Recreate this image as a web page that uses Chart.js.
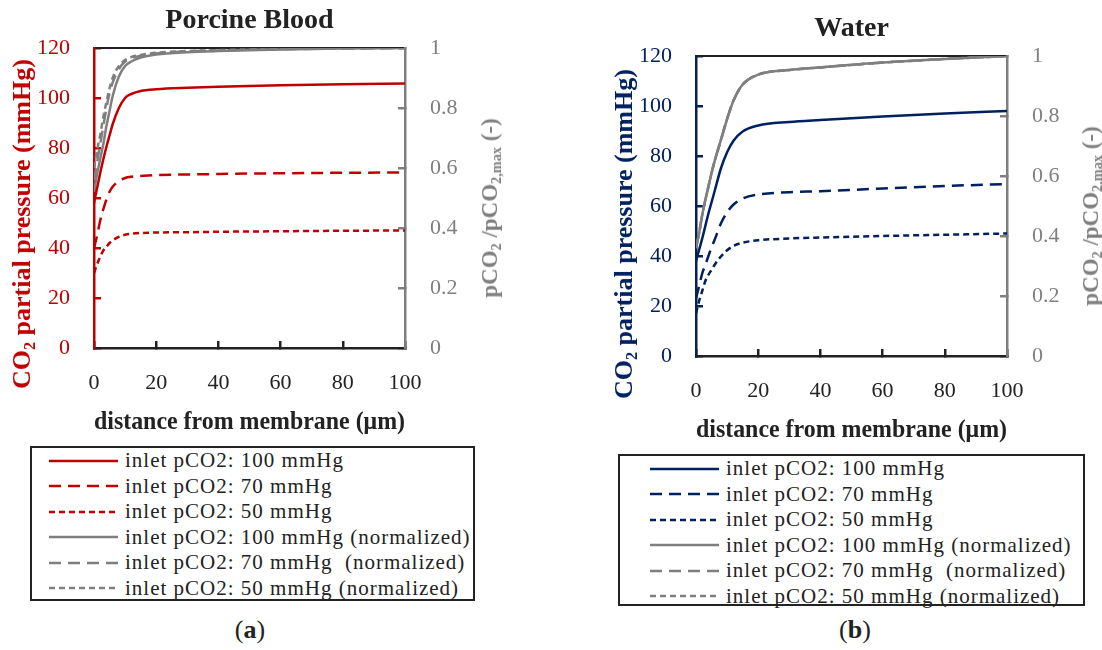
<!DOCTYPE html>
<html>
<head>
<meta charset="utf-8">
<script src="https://cdn.jsdelivr.net/npm/chart.js@4.4.0/dist/chart.umd.min.js"></script>
<style>
body { margin:0; width:1102px; height:650px; overflow:hidden; background:#fff; font-family:"Liberation Serif", serif; color:#222; }
.wrap { position:absolute; width:500px; height:445px; }
.legend { position:absolute; border:2px solid #222; box-sizing:border-box; }
.row { height:25.5px; display:flex; align-items:center; font-size:21px; letter-spacing:1px; white-space:pre; }
.row svg { margin-right:7px; }
.cap { position:absolute; top:615px; font-size:26px; transform:translateX(-50%); }
.ytitle { position:absolute; white-space:nowrap; font-weight:bold; font-size:26px; line-height:30px;
    transform:translate(-50%, -50%) rotate(-90deg); }
.ytitle sub { font-size:0.62em; vertical-align:-0.3em; line-height:0; }
</style>
</head>
<body>
<div class="wrap" style="left:0;top:0"><canvas id="blood" width="500" height="445"></canvas></div>
<div class="wrap" style="left:602px;top:8px"><canvas id="water" width="500" height="445"></canvas></div>
<div class="ytitle" style="left:22px;top:224px;color:#C00000">CO<sub>2</sub> partial pressure (mmHg)</div>
<div class="ytitle" style="left:490px;top:208px;color:#7F7F7F;font-size:23px">pCO<sub>2</sub> /pCO<sub>2,max</sub> (-)</div>
<div class="ytitle" style="left:624px;top:234px;color:#002060">CO<sub>2</sub> partial pressure (mmHg)</div>
<div class="ytitle" style="left:1091px;top:216px;color:#7F7F7F;font-size:23px">pCO<sub>2</sub> /pCO<sub>2,max</sub> (-)</div>
<div class="legend" id="legA" style="left:30px;top:446px;width:445px;height:155px;padding-left:17px"></div>
<div class="legend" id="legB" style="left:618px;top:454px;width:467px;height:152px;padding-left:30px"></div>
<div class="cap" style="left:250px">(<b>a</b>)</div>
<div class="cap" style="left:855px">(<b>b</b>)</div>
<script>
// khoảng cách từ màng (µm)
var dist = [0, 1, 2, 3, 4, 5, 6, 8, 10, 12, 15, 20, 30, 40, 60, 80, 100];

// máu heo (mmHg)
var blood100 = [58, 64, 70, 75.5, 80.5, 85, 89.5, 96, 100, 101.6, 102.8, 103.5, 104.1, 104.5, 105.1, 105.5, 105.8];
var blood70 = [40, 45, 51, 55.5, 59.5, 62.5, 64.5, 66.8, 68, 68.5, 68.8, 69.2, 69.4, 69.6, 69.9, 70.1, 70.2];
var blood50 = [30, 33.5, 36.5, 39, 40.5, 42, 43, 44.5, 45.3, 45.7, 46, 46.2, 46.3, 46.5, 46.7, 46.9, 47];
// máu heo chuẩn hoá (-)
var bloodN100 = [0.52, 0.58, 0.63, 0.68, 0.74, 0.79, 0.84, 0.905, 0.94, 0.955, 0.968, 0.978, 0.986, 0.99, 0.995, 0.998, 1.0];
var bloodN70 = [0.56, 0.62, 0.68, 0.74, 0.80, 0.85, 0.885, 0.93, 0.955, 0.965, 0.974, 0.982, 0.989, 0.992, 0.996, 0.998, 1.0];
var bloodN50 = [0.60, 0.66, 0.71, 0.77, 0.82, 0.865, 0.90, 0.94, 0.96, 0.97, 0.977, 0.984, 0.99, 0.993, 0.997, 0.999, 1.0];

// nước (mmHg)
var water100 = [38, 42.5, 47, 52, 57, 61.5, 66, 75, 81.5, 86, 89.8, 92.2, 93.6, 94.4, 95.8, 97, 98];
var water70 = [23, 28, 33, 36.5, 40, 43.5, 46.5, 53, 57.5, 60.5, 63, 64.6, 65.5, 65.9, 67, 68, 68.8];
var water50 = [17, 22, 26, 30, 32.5, 34.5, 36.5, 39.8, 42.3, 44, 45.3, 46.3, 47, 47.4, 48, 48.5, 49];
// nước chuẩn hoá (-) - ba đường trùng nhau
var waterN100 = [0.36, 0.41, 0.47, 0.52, 0.565, 0.61, 0.65, 0.72, 0.79, 0.85, 0.905, 0.938, 0.953, 0.962, 0.978, 0.99, 1.0];
var waterN70 = [0.36, 0.41, 0.47, 0.52, 0.565, 0.61, 0.65, 0.72, 0.79, 0.85, 0.905, 0.938, 0.953, 0.962, 0.978, 0.99, 1.0];
var waterN50 = [0.36, 0.41, 0.47, 0.52, 0.565, 0.61, 0.65, 0.72, 0.79, 0.85, 0.905, 0.938, 0.953, 0.962, 0.978, 0.99, 1.0];

var labels = ['inlet pCO2: 100 mmHg', 'inlet pCO2: 70 mmHg', 'inlet pCO2: 50 mmHg',
    'inlet pCO2: 100 mmHg (normalized)', 'inlet pCO2: 70 mmHg  (normalized)', 'inlet pCO2: 50 mmHg (normalized)'];
var dashes = [[], [12, 7], [6, 4], [], [12, 7], [6, 4]];

var RED = '#C00000', NAVY = '#002060', GRAY = '#7F7F7F', INK = '#222';
var SERIF = "'Liberation Serif', serif";

function pts(arr) {
    return arr.map(function (v, i) { return { x: dist[i], y: v }; });
}

function sets(color, series) {
    return series.map(function (s, i) {
        return {
            label: labels[i],
            data: pts(s),
            borderColor: i < 3 ? color : GRAY,
            borderDash: dashes[i],
            yAxisID: i < 3 ? 'y' : 'y1'
        };
    });
}

function makeChart(id, color, title, series) {
    return new Chart(document.getElementById(id), {
        type: 'line',
        data: { datasets: sets(color, series) },
        options: {
            responsive: false,
            animation: false,
            layout: { padding: 0 },
            plugins: { legend: { display: false }, tooltip: { enabled: false } },
            elements: {
                point: { radius: 0 },
                line: { borderWidth: 2.5, cubicInterpolationMode: 'monotone' }
            },
            scales: {
                x: {
                    type: 'linear', min: 0, max: 100, position: 'bottom',
                    ticks: { stepSize: 20, padding: 29, color: INK, font: { family: SERIF, size: 22 } },
                    grid: { drawOnChartArea: false, tickLength: -7, color: INK, lineWidth: 2.5 },
                    border: { color: INK, width: 2.5 },
                    title: { display: true, text: 'distance from membrane (μm)', color: INK,
                        font: { family: SERIF, size: 25, weight: 'bold' }, padding: { top: 0, bottom: 7 } },
                    afterFit: function (s) { s.height = 97; }
                },
                xTop: {
                    type: 'linear', min: 0, max: 100, position: 'top',
                    ticks: { display: false },
                    grid: { drawOnChartArea: false, drawTicks: false },
                    border: { color: INK, width: 2 },
                    title: { display: true, text: title, color: INK,
                        font: { family: SERIF, size: 28, weight: 'bold' }, padding: { top: 4, bottom: 0 } },
                    afterFit: function (s) { s.height = 48; }
                },
                y: {
                    min: 0, max: 120, position: 'left',
                    ticks: { stepSize: 20, padding: 31, color: color, font: { family: SERIF, size: 22 } },
                    grid: { drawOnChartArea: false, tickLength: -7, color: color, lineWidth: 2.5 },
                    border: { color: color, width: 2.5 },
                    afterFit: function (s) { s.width = 94; }
                },
                y1: {
                    min: 0, max: 1, position: 'right',
                    ticks: { stepSize: 0.2, padding: 32, color: GRAY, font: { family: SERIF, size: 22 },
                        callback: function (v) { return String(+v.toFixed(1)); } },
                    grid: { drawOnChartArea: false, tickLength: -7, color: GRAY, lineWidth: 2.5 },
                    border: { color: GRAY, width: 2.5 },
                    afterFit: function (s) { s.width = 95; }
                }
            }
        }
    });
}

// chú giải dạng hộp bên dưới mỗi đồ thị
function buildLegend(boxId, chart) {
    var html = '';
    chart.data.datasets.forEach(function (d) {
        var dash = d.borderDash.length ? d.borderDash.join(',') : 'none';
        html += '<div class="row"><svg width="69" height="6"><line x1="0" y1="3" x2="69" y2="3" stroke="' +
            d.borderColor + '" stroke-width="2.5" stroke-dasharray="' + dash + '"/></svg>' + d.label + '</div>';
    });
    document.getElementById(boxId).innerHTML = html;
}

var bieudoA = makeChart('blood', RED, 'Porcine Blood', [blood100, blood70, blood50, bloodN100, bloodN70, bloodN50]);
var bieudoB = makeChart('water', NAVY, 'Water', [water100, water70, water50, waterN100, waterN70, waterN50]);
buildLegend('legA', bieudoA);
buildLegend('legB', bieudoB);
</script>
</body>
</html>
